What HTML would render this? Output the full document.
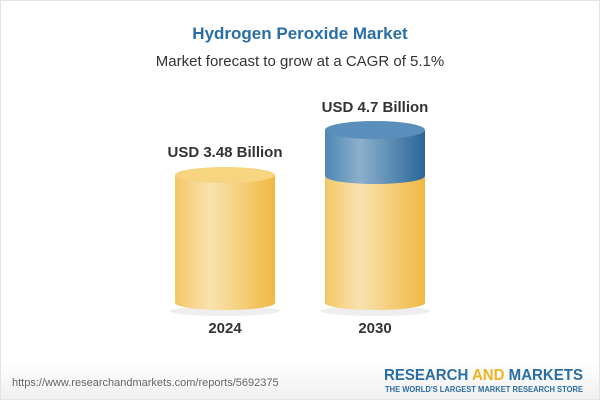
<!DOCTYPE html>
<html><head><style>
body{margin:0;width:600px;height:400px;background:#fff;font-family:"Liberation Sans",Arial,sans-serif;position:relative;overflow:hidden}
.t{position:absolute;width:600px;text-align:center}
</style></head><body>
<div style="position:absolute;left:0;top:0;width:598px;height:398px;border:1px solid #e4e4e4"></div>
<div style="position:absolute;left:1px;top:362px;width:598px;height:37px;background:linear-gradient(#fff,#f0f0f0)"></div>
<div class="t" style="top:24px;font-size:17px;font-weight:bold;color:#2a6ea6">Hydrogen Peroxide Market</div>
<div class="t" style="top:53px;font-size:15px;color:#333">Market forecast to grow at a CAGR of 5.1%</div>
<svg width="600" height="400" style="position:absolute;left:0;top:0">
<defs>
<linearGradient id="y" x1="0" x2="1"><stop offset="0" stop-color="#f4c766"/><stop offset=".35" stop-color="#f9e2b0"/><stop offset="1" stop-color="#f0b941"/></linearGradient>
<linearGradient id="b" x1="0" x2="1"><stop offset="0" stop-color="#4f86b4"/><stop offset=".35" stop-color="#8cb0cc"/><stop offset="1" stop-color="#2a6698"/></linearGradient>
</defs>
<ellipse cx="225" cy="311" rx="55" ry="5" fill="#eee"/>
<ellipse cx="375" cy="311" rx="55" ry="5" fill="#eee"/>
<path d="M175 175 V303 A50 7 0 0 0 275 303 V175 Z" fill="url(#y)"/>
<ellipse cx="225" cy="175" rx="50" ry="8" fill="#f7d47f"/>
<path d="M325 177 V303 A50 7 0 0 0 425 303 V177 Z" fill="url(#y)"/>
<path d="M325 130 V176 A50 8 0 0 0 425 176 V130 Z" fill="url(#b)"/>
<ellipse cx="375" cy="130" rx="50" ry="9" fill="#5a8fbb"/>
<text x="225" y="157" font-size="15" font-weight="bold" fill="#333" text-anchor="middle" font-family="Liberation Sans">USD 3.48 Billion</text>
<text x="375" y="112" font-size="15" font-weight="bold" fill="#333" text-anchor="middle" font-family="Liberation Sans">USD 4.7 Billion</text>
<text x="225" y="333" font-size="15" font-weight="bold" fill="#333" text-anchor="middle" font-family="Liberation Sans">2024</text>
<text x="375" y="333" font-size="15" font-weight="bold" fill="#333" text-anchor="middle" font-family="Liberation Sans">2030</text>
<text x="12" y="386" font-size="11" fill="#666" font-family="Liberation Sans">https://www.researchandmarkets.com/reports/5692375</text>
<text x="384" y="380" font-size="16" font-weight="bold" fill="#2a6ea6" font-family="Liberation Sans" textLength="199" lengthAdjust="spacingAndGlyphs">RESEARCH <tspan fill="#f0b323">AND</tspan> MARKETS</text>
<text x="385" y="392" font-size="8" font-weight="bold" fill="#2a6ea6" font-family="Liberation Sans" textLength="198" lengthAdjust="spacingAndGlyphs">THE WORLD'S LARGEST MARKET RESEARCH STORE</text>
</svg>
</body></html>
